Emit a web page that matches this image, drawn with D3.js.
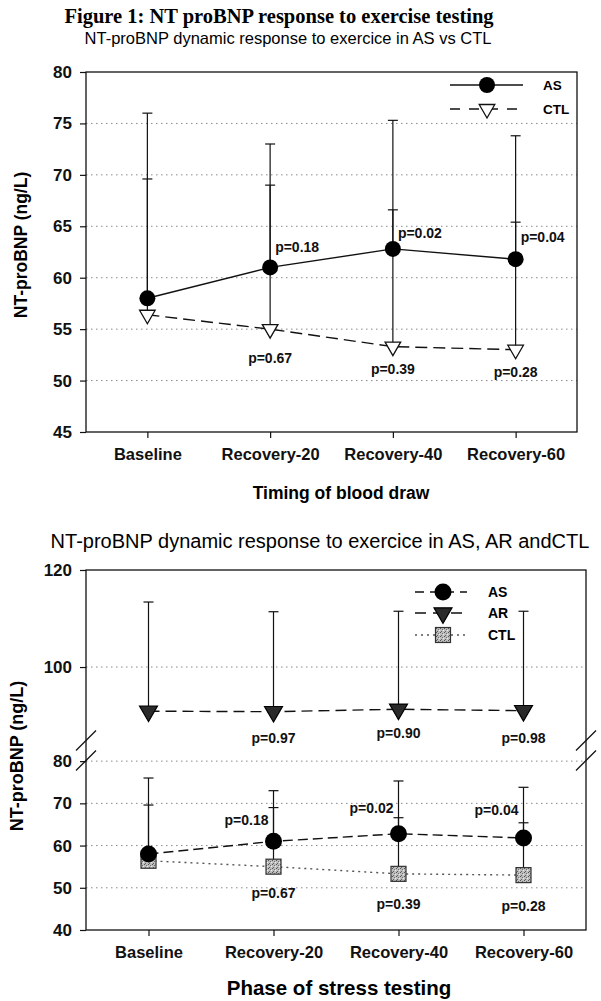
<!DOCTYPE html>
<html>
<head>
<meta charset="utf-8">
<script src="https://cdn.jsdelivr.net/npm/d3@7"></script>
<style>
  body { margin: 0; background: #fff; }
  svg { display: block; }
  text { font-family: "Liberation Sans", Arial, sans-serif; }
</style>
</head>
<body>
<svg id="fig" width="601" height="1001"></svg>
<script>
// values
const phases = ["Baseline", "Recovery-20", "Recovery-40", "Recovery-60"];
const asMean = [58.0, 61.0, 62.8, 61.8];
const asUpper = [76.0, 73.0, 75.3, 73.8];
const ctlMean = [56.4, 55.0, 53.3, 53.0];
const ctlUpper = [69.6, 69.0, 66.6, 65.4];
const arMean = [90.9, 90.8, 91.3, 91.0];
const arUpper = [113.4, 111.4, 111.5, 111.5];
const pAS = [null, "0.18", "0.02", "0.04"];
const pCTL = [null, "0.67", "0.39", "0.28"];
const pAR = [null, "0.97", "0.90", "0.98"];
const topTicks = [45, 50, 55, 60, 65, 70, 75, 80];
const lowTicks = [40, 50, 60, 70, 80];
const highTicks = [100, 120];

const svg = d3.select("#fig");

// stipple pattern for the CTL squares
const defs = svg.append("defs");
const pat = defs.append("pattern").attr("id", "stip")
    .attr("width", 4).attr("height", 4).attr("patternUnits", "userSpaceOnUse");
pat.append("rect").attr("width", 4).attr("height", 4).attr("fill", "#bdbdbd");
pat.append("rect").attr("x", 0).attr("y", 0).attr("width", 1).attr("height", 1).attr("fill", "#555");
pat.append("rect").attr("x", 2).attr("y", 1).attr("width", 1).attr("height", 1).attr("fill", "#707070");
pat.append("rect").attr("x", 1).attr("y", 3).attr("width", 1).attr("height", 1).attr("fill", "#606060");
pat.append("rect").attr("x", 3).attr("y", 2).attr("width", 1).attr("height", 1).attr("fill", "#eee");

const triDown = d3.symbol().type(d3.symbolTriangle);

function errBars(g, x, y, means, uppers) {
    phases.forEach((p, i) => {
        g.append("line")
            .attr("x1", x(p)).attr("x2", x(p))
            .attr("y1", y(means[i])).attr("y2", y(uppers[i]))
            .attr("stroke", "#111").attr("stroke-width", 1.2);
        g.append("line")
            .attr("x1", x(p) - 5).attr("x2", x(p) + 5)
            .attr("y1", y(uppers[i])).attr("y2", y(uppers[i]))
            .attr("stroke", "#111").attr("stroke-width", 1.2);
    });
}

function seriesLine(g, x, y, means, dash, color) {
    g.append("path")
        .datum(means)
        .attr("fill", "none")
        .attr("stroke", color)
        .attr("stroke-width", 1.4)
        .attr("stroke-dasharray", dash)
        .attr("d", d3.line().x((d, i) => x(phases[i])).y(d => y(d)));
}

function grid(g, x, y, ticks) {
    g.selectAll(null).data(ticks).enter().append("line")
        .attr("x1", x.range()[0]).attr("x2", x.range()[1])
        .attr("y1", d => y(d)).attr("y2", d => y(d))
        .attr("stroke", "#8a8a8a").attr("stroke-width", 1)
        .attr("stroke-dasharray", "1.5,3.5");
}

function styleAxis(a, size) {
    a.select(".domain").remove();
    a.selectAll(".tick line").attr("stroke", "#111").attr("stroke-width", 1.2);
    a.selectAll("text").attr("fill", "#111")
        .style("font-weight", "bold").style("font-size", size + "px");
}

function pLabels(g, x, y, means, ps, anchor, dx, dys) {
    phases.forEach((p, i) => {
        if (!ps[i]) return;
        g.append("text")
            .attr("x", x(p) + dx)
            .attr("y", y(means[i]) + dys[i])
            .attr("dy", "0.35em")
            .attr("text-anchor", anchor)
            .style("font-weight", "bold").style("font-size", "14px")
            .attr("fill", "#111")
            .text("p=" + ps[i]);
    });
}

// ---------- titles ----------
svg.append("text").attr("x", 279).attr("y", 16).attr("dy", "0.35em")
    .attr("text-anchor", "middle")
    .style("font-family", "'Liberation Serif', 'Times New Roman', serif")
    .style("font-weight", "bold").style("font-size", "20.5px")
    .text("Figure 1: NT proBNP response to exercise testing");
svg.append("text").attr("x", 288).attr("y", 38).attr("dy", "0.35em")
    .attr("text-anchor", "middle").style("font-size", "16.5px")
    .text("NT-proBNP dynamic response to exercice in AS vs CTL");

// ---------- chart 1 ----------
const x1 = d3.scalePoint().domain(phases).range([86, 577]).padding(0.5);
const y1 = d3.scaleLinear().domain([45, 80]).range([432, 72]);
const g1 = svg.append("g");

grid(g1, x1, y1, topTicks.slice(1, -1));
g1.append("rect").attr("x", 86).attr("y", 72).attr("width", 491).attr("height", 360)
    .attr("fill", "none").attr("stroke", "#111").attr("stroke-width", 1.3);

const ax1 = g1.append("g").attr("transform", "translate(86,0)")
    .call(d3.axisLeft(y1).tickValues(topTicks).tickSize(6).tickPadding(8));
styleAxis(ax1, 17);
const bx1 = g1.append("g").attr("transform", "translate(0,432)")
    .call(d3.axisBottom(x1).tickSize(6).tickPadding(10));
styleAxis(bx1, 16.5);

errBars(g1, x1, y1, asMean, asUpper);
errBars(g1, x1, y1, ctlMean, ctlUpper);
seriesLine(g1, x1, y1, asMean, null, "#111");
seriesLine(g1, x1, y1, ctlMean, "12,6", "#111");

g1.selectAll(null).data(ctlMean).enter().append("path")
    .attr("d", triDown.size(105)())
    .attr("transform", (d, i) => `translate(${x1(phases[i])},${y1(d)}) rotate(180)`)
    .attr("fill", "#fff").attr("stroke", "#111").attr("stroke-width", 1.3);
g1.selectAll(null).data(asMean).enter().append("circle")
    .attr("cx", (d, i) => x1(phases[i])).attr("cy", d => y1(d))
    .attr("r", 8).attr("fill", "#000");

pLabels(g1, x1, y1, asMean, pAS, "start", 5, [0, -20, -16, -22]);
pLabels(g1, x1, y1, ctlMean, pCTL, "middle", 0, [0, 29, 22, 22]);

// legend 1
const lg1 = g1.append("g");
lg1.append("line").attr("x1", 450).attr("x2", 523).attr("y1", 85).attr("y2", 85)
    .attr("stroke", "#111").attr("stroke-width", 1.3);
lg1.append("circle").attr("cx", 487).attr("cy", 85).attr("r", 8).attr("fill", "#000");
lg1.append("line").attr("x1", 450).attr("x2", 523).attr("y1", 109).attr("y2", 109)
    .attr("stroke", "#111").attr("stroke-width", 1.3).attr("stroke-dasharray", "10,9");
lg1.append("path").attr("d", triDown.size(105)())
    .attr("transform", "translate(487,109) rotate(180)")
    .attr("fill", "#fff").attr("stroke", "#111").attr("stroke-width", 1.3);
lg1.append("text").attr("x", 543).attr("y", 85).attr("dy", "0.35em")
    .style("font-weight", "bold").style("font-size", "13.5px").text("AS");
lg1.append("text").attr("x", 543).attr("y", 109).attr("dy", "0.35em")
    .style("font-weight", "bold").style("font-size", "13.5px").text("CTL");

g1.append("text").attr("transform", "translate(21,245) rotate(-90)")
    .attr("text-anchor", "middle").attr("dy", "0.35em")
    .style("font-weight", "bold").style("font-size", "17.5px")
    .text("NT-proBNP (ng/L)");
g1.append("text").attr("x", 341).attr("y", 493).attr("dy", "0.35em")
    .attr("text-anchor", "middle")
    .style("font-weight", "bold").style("font-size", "17.5px")
    .text("Timing of blood draw");

// ---------- chart 2 ----------
svg.append("text").attr("x", 320).attr("y", 541).attr("dy", "0.35em")
    .attr("text-anchor", "middle").style("font-size", "20px")
    .text("NT-proBNP dynamic response to exercice in AS, AR andCTL");

const x2 = d3.scalePoint().domain(phases).range([86, 586]).padding(0.5);
const yLow = d3.scaleLinear().domain([40, 82.4]).range([930, 751]);
const yHigh = d3.scaleLinear().domain([82.9, 120]).range([750, 570]);
const g2 = svg.append("g");

grid(g2, x2, yLow, [50, 60, 70, 80]);
grid(g2, x2, yHigh, [100]);
g2.append("rect").attr("x", 86).attr("y", 570).attr("width", 500).attr("height", 360)
    .attr("fill", "none").attr("stroke", "#111").attr("stroke-width", 1.3);

const ax2a = g2.append("g").attr("transform", "translate(86,0)")
    .call(d3.axisLeft(yHigh).tickValues(highTicks).tickSize(6).tickPadding(8));
styleAxis(ax2a, 17);
const ax2b = g2.append("g").attr("transform", "translate(86,0)")
    .call(d3.axisLeft(yLow).tickValues(lowTicks).tickSize(6).tickPadding(8));
styleAxis(ax2b, 17);
const bx2 = g2.append("g").attr("transform", "translate(0,930)")
    .call(d3.axisBottom(x2).tickSize(6).tickPadding(10));
styleAxis(bx2, 16.5);

// axis break marks
const brk = (yLow.range()[1] + yHigh.range()[0]) / 2;
[86, 586].forEach(bx => {
    [-10, 10].forEach(off => {
        g2.append("line")
            .attr("x1", bx - 10).attr("x2", bx + 10)
            .attr("y1", brk + off + 10).attr("y2", brk + off - 10)
            .attr("stroke", "#111").attr("stroke-width", 1.3);
    });
});

errBars(g2, x2, yHigh, arMean, arUpper);
errBars(g2, x2, yLow, asMean, asUpper);
errBars(g2, x2, yLow, ctlMean, ctlUpper);
seriesLine(g2, x2, yHigh, arMean, "11,6", "#111");
seriesLine(g2, x2, yLow, asMean, "10,5", "#111");
seriesLine(g2, x2, yLow, ctlMean, "2,4", "#555");

g2.selectAll(null).data(ctlMean).enter().append("rect")
    .attr("x", (d, i) => x2(phases[i]) - 7.5).attr("y", d => yLow(d) - 7.5)
    .attr("width", 15).attr("height", 15)
    .attr("fill", "url(#stip)").attr("stroke", "#333").attr("stroke-width", 1.2);
g2.selectAll(null).data(asMean).enter().append("circle")
    .attr("cx", (d, i) => x2(phases[i])).attr("cy", d => yLow(d))
    .attr("r", 8.5).attr("fill", "#000");
g2.selectAll(null).data(arMean).enter().append("path")
    .attr("d", triDown.size(140)())
    .attr("transform", (d, i) => `translate(${x2(phases[i])},${yHigh(d)}) rotate(180)`)
    .attr("fill", "#2a2a2a").attr("stroke", "#000").attr("stroke-width", 1.2);

pLabels(g2, x2, yHigh, arMean, pAR, "middle", 0, [0, 26, 24, 27]);
pLabels(g2, x2, yLow, asMean, pAS, "end", -5, [0, -21, -26, -28]);
pLabels(g2, x2, yLow, ctlMean, pCTL, "middle", 0, [0, 26, 30, 31]);

// legend 2
const lg2 = g2.append("g");
lg2.append("line").attr("x1", 415).attr("x2", 467).attr("y1", 592).attr("y2", 592)
    .attr("stroke", "#111").attr("stroke-width", 1.3).attr("stroke-dasharray", "9,6");
lg2.append("circle").attr("cx", 443).attr("cy", 592).attr("r", 8.5).attr("fill", "#000");
lg2.append("line").attr("x1", 415).attr("x2", 467).attr("y1", 613).attr("y2", 613)
    .attr("stroke", "#111").attr("stroke-width", 1.3).attr("stroke-dasharray", "11,7");
lg2.append("path").attr("d", triDown.size(140)())
    .attr("transform", "translate(443,613) rotate(180)")
    .attr("fill", "#2a2a2a").attr("stroke", "#000").attr("stroke-width", 1.2);
lg2.append("line").attr("x1", 415).attr("x2", 467).attr("y1", 635).attr("y2", 635)
    .attr("stroke", "#555").attr("stroke-width", 1.3).attr("stroke-dasharray", "2,4");
lg2.append("rect").attr("x", 435.5).attr("y", 627.5).attr("width", 15).attr("height", 15)
    .attr("fill", "url(#stip)").attr("stroke", "#333").attr("stroke-width", 1.2);
[["AS", 592], ["AR", 613], ["CTL", 635]].forEach(([t, yy]) => {
    lg2.append("text").attr("x", 488).attr("y", yy).attr("dy", "0.35em")
        .style("font-weight", "bold").style("font-size", "14px").text(t);
});

g2.append("text").attr("transform", "translate(17,756) rotate(-90)")
    .attr("text-anchor", "middle").attr("dy", "0.35em")
    .style("font-weight", "bold").style("font-size", "18px")
    .text("NT-proBNP (ng/L)");
g2.append("text").attr("x", 339).attr("y", 988).attr("dy", "0.35em")
    .attr("text-anchor", "middle")
    .style("font-weight", "bold").style("font-size", "20.5px")
    .text("Phase of stress testing");
</script>
</body>
</html>
